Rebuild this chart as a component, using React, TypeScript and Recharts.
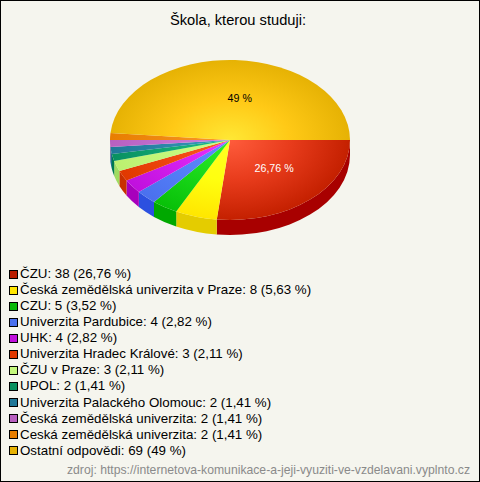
import React from 'react';
import { PieChart, Pie, Legend, Sector } from 'recharts';

// Chart values
const schools = [
  'ČZU',
  'Česká zemědělská univerzita v Praze',
  'CZU',
  'Univerzita Pardubice',
  'UHK',
  'Univerzita Hradec Králové',
  'ČZU v Praze',
  'UPOL',
  'Univerzita Palackého Olomouc',
  'Česká zemědělská univerzita',
  'Ceská zemědělská univerzita',
  'Ostatní odpovědi',
];
const counts = [38, 8, 5, 4, 4, 3, 3, 2, 2, 2, 2, 69];
const percents = ['26,76', '5,63', '3,52', '2,82', '2,82', '2,11', '2,11', '1,41', '1,41', '1,41', '1,41', '49'];

// Slice colours: centre / middle / edge of the top, side wall, legend swatch
const centerColors = ['#ff5c3c', '#ffff22', '#2cf02c', '#5f8cff', '#ec36ff', '#ff5a22', '#ccff88', '#1cc088', '#3a9cc0', '#d080e0', '#ff9a2a', '#ffe835'];
const midColors = ['#e83c1c', '#ffff10', '#1ad81a', '#5580f8', '#d420ee', '#f04810', '#c4f87c', '#12a874', '#2c88aa', '#c470d0', '#f08a14', '#ffc916'];
const edgeColors = ['#c42000', '#ffe600', '#08c008', '#4a70ee', '#c010dd', '#e03800', '#bcf070', '#089060', '#207898', '#b860c0', '#e87e00', '#e6b204'];
const sideColors = ['#a80000', '#e4cc00', '#00a800', '#2c50e0', '#a800bc', '#c83000', '#a0dc60', '#007850', '#006080', '#a050a0', '#c86000', '#c89000'];
const swatchColors = ['#b81c00', '#ffe600', '#08b808', '#4a70ee', '#c010dd', '#e03800', '#c4f87c', '#089060', '#207898', '#b860c0', '#e87e00', '#e6b204'];

const WIDTH = 480;
const HEIGHT = 482;
const CX = 230;
const CY = 140;
const RX = 120;
const RY = 80;
const DEPTH = 15;

const chartData = schools.map((name, i) => ({
  name,
  value: counts[i],
  fill: edgeColors[i],
}));

const pt = (deg: number, dy = 0) => {
  const rad = (deg * Math.PI) / 180;
  return [CX + RX * Math.cos(rad), CY + dy + RY * Math.sin(rad)];
};

// recharts gives counter clockwise angles, flip them for screen coordinates
const TopSlice = (props: any) => {
  const a0 = -props.startAngle;
  const a1 = -props.endAngle;
  const [x0, y0] = pt(a0);
  const [x1, y1] = pt(a1);
  const large = a1 - a0 > 180 ? 1 : 0;
  const d = `M${CX},${CY} L${x0},${y0} A${RX},${RY} 0 ${large} 1 ${x1},${y1} Z`;
  return <path d={d} fill={`url(#top${props.index})`} stroke="none" />;
};

// side wall, only the part of the slice facing the viewer (0..180 deg)
const SideSlice = (props: any) => {
  const a0 = Math.max(0, -props.startAngle);
  const a1 = Math.min(180, -props.endAngle);
  if (a1 <= a0) return <Sector {...props} outerRadius={0} />;
  const [x0, y0] = pt(a0);
  const [x1, y1] = pt(a1);
  const d =
    `M${x0},${y0} A${RX},${RY} 0 0 1 ${x1},${y1} ` +
    `L${x1},${y1 + DEPTH} A${RX},${RY} 0 0 0 ${x0},${y0 + DEPTH} Z`;
  return <path d={d} fill={sideColors[props.index]} stroke="none" />;
};

const renderLabel = (props: any) => {
  const i = props.index;
  if (i !== 0 && i !== schools.length - 1) return null;
  const rad = (-props.midAngle * Math.PI) / 180;
  // the original labels sit a little right of the radial position
  const x = CX + 0.52 * RX * Math.cos(rad) + (i === 0 ? 2.5 : 7);
  const y = CY + 0.52 * RY * Math.sin(rad) + (i === 0 ? -3 : 0);
  return (
    <text x={x} y={y} textAnchor="middle" dominantBaseline="central" fontSize={10.67} fill={i === 0 ? '#ffffff' : '#000000'} fontFamily="Liberation Sans, Arial, sans-serif">
      {percents[i]} %
    </text>
  );
};

// payload holds both pies, the rows come from the arrays above
const renderLegend = () => (
  <div>
    {schools.map((name, i) => (
      <div key={i} style={{ height: 16.07, lineHeight: '16px', whiteSpace: 'nowrap', display: 'flex', alignItems: 'center' }}>
        <span style={{ display: 'inline-block', boxSizing: 'border-box', width: 9, height: 9, border: '1px solid #000', background: swatchColors[i], marginRight: 2 }} />
        <span>{name}: {counts[i]} ({percents[i]} %)</span>
      </div>
    ))}
  </div>
);

export default function App() {
  return (
    <div style={{ position: 'absolute', left: 0, top: 0, width: WIDTH, height: HEIGHT, background: '#f5f5ee', boxSizing: 'border-box', border: '1px solid #000', fontFamily: 'Liberation Sans, Arial, sans-serif', overflow: 'hidden' }}>
      <div style={{ position: 'absolute', left: -3, width: 480, top: 11, textAlign: 'center', fontSize: 14.67, color: '#000' }}>
        Škola, kterou studuji:
      </div>
      <PieChart width={WIDTH} height={HEIGHT} style={{ position: 'absolute', left: -1, top: -1 }}>
        <defs>
          {schools.map((_, i) => (
            <radialGradient key={i} id={`top${i}`} gradientUnits="userSpaceOnUse" cx={0} cy={0} r={1} gradientTransform={`translate(${CX} ${CY}) scale(${RX} ${RY})`}>
              <stop offset="0%" stopColor={centerColors[i]} />
              <stop offset="50%" stopColor={midColors[i]} />
              <stop offset="100%" stopColor={edgeColors[i]} />
            </radialGradient>
          ))}
        </defs>
        <Pie data={chartData} dataKey="value" nameKey="name" cx={CX} cy={CY} outerRadius={RX} startAngle={0} endAngle={-360} isAnimationActive={false} legendType="none" shape={SideSlice} stroke="none" />
        <Pie data={chartData} dataKey="value" nameKey="name" cx={CX} cy={CY} outerRadius={RX} startAngle={0} endAngle={-360} isAnimationActive={false} shape={TopSlice} stroke="none" label={renderLabel} labelLine={false} />
        <Legend content={renderLegend} layout="vertical" verticalAlign="top" align="left" wrapperStyle={{ left: 9, top: 266, width: 460, fontSize: 13.33, color: '#000' }} />
      </PieChart>
      <div style={{ position: 'absolute', right: 9, top: 462, fontSize: 12.2, color: '#8a8a8a', whiteSpace: 'nowrap' }}>
        zdroj: https://internetova-komunikace-a-jeji-vyuziti-ve-vzdelavani.vyplnto.cz
      </div>
    </div>
  );
}
